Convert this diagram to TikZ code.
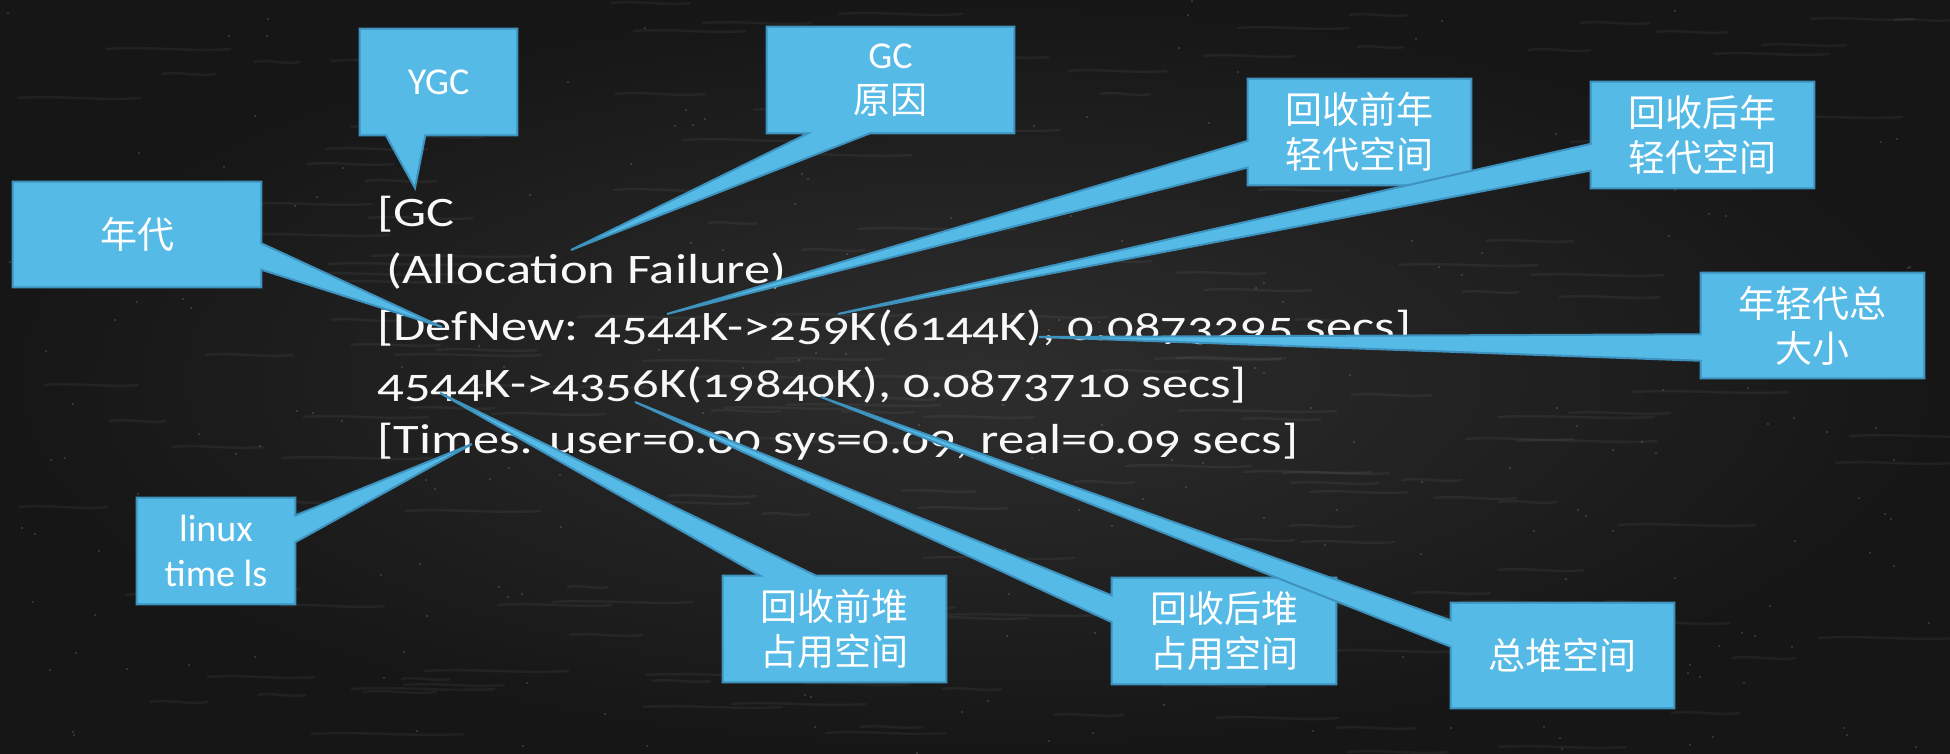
\documentclass[tikz,border=0pt]{standalone}
\usepackage{fontspec}
\setmainfont{Carlito}
\newfontfamily\codef[FakeStretch=1.25,Numbers=OldStyle]{Carlito}
\newfontfamily\cjk{Noto Sans CJK SC}
\usetikzlibrary{calc}
\pgfdeclarelayer{back}
\pgfdeclarelayer{shapes}
\pgfsetlayers{back,shapes,main}
\definecolor{cfill}{RGB}{86,186,230}
\definecolor{cline}{RGB}{62,146,190}
\definecolor{boardA}{RGB}{46,46,46}
\definecolor{boardB}{RGB}{22,22,22}
\definecolor{chalk}{RGB}{248,248,248}
\tikzset{
  cshape/.style={fill=cfill,draw=cline,line width=1pt,line join=miter},
  cbox/.style={inner sep=0pt,text=white,align=center,font=\fontsize{19}{22.5}\selectfont},
  codeline/.style={anchor=base west,inner sep=0pt,text=chalk,font=\codef\fontsize{21}{25}\selectfont},
  speck/.style={fill=white,opacity=0.18},
  streak/.style={draw=white,opacity=0.05,line width=1.2pt}
}
\newcommand\cwT[4]{\begin{pgfonlayer}{shapes}\path[cshape] (#1.north west) -- ($(#1.north west)!#2!(#1.north east)$) -- (#4) -- ($(#1.north west)!#3!(#1.north east)$) -- (#1.north east) -- (#1.south east) -- (#1.south west) -- cycle;\end{pgfonlayer}}
\newcommand\cwR[4]{\begin{pgfonlayer}{shapes}\path[cshape] (#1.north west) -- (#1.north east) -- ($(#1.north east)!#2!(#1.south east)$) -- (#4) -- ($(#1.north east)!#3!(#1.south east)$) -- (#1.south east) -- (#1.south west) -- cycle;\end{pgfonlayer}}
\newcommand\cwB[4]{\begin{pgfonlayer}{shapes}\path[cshape] (#1.north west) -- (#1.north east) -- (#1.south east) -- ($(#1.south west)!#3!(#1.south east)$) -- (#4) -- ($(#1.south west)!#2!(#1.south east)$) -- (#1.south west) -- cycle;\end{pgfonlayer}}
\newcommand\cwL[4]{\begin{pgfonlayer}{shapes}\path[cshape] (#1.north west) -- (#1.north east) -- (#1.south east) -- (#1.south west) -- ($(#1.north west)!#3!(#1.south west)$) -- (#4) -- ($(#1.north west)!#2!(#1.south west)$) -- cycle;\end{pgfonlayer}}
\newcommand\zh[1]{{\cjk\fontsize{18.5}{22.5}\selectfont #1}}
\begin{document}
\begin{tikzpicture}[x=0.5pt,y=-0.5pt]
\useasboundingbox (0,0) rectangle (1950,754);
\begin{pgfonlayer}{back}
\shade[inner color=boardA,outer color=boardB] (0,0) rectangle (1950,754);
\pgfmathsetseed{11}
\foreach \i in {1,...,180}{
  \pgfmathsetmacro\sx{random(0,1900)}
  \pgfmathsetmacro\sy{random(0,754)}
  \pgfmathsetmacro\sl{random(40,160)}
  \draw[streak] (\sx,\sy) .. controls ({\sx+\sl/3},{\sy-3}) and ({\sx+2*\sl/3},{\sy+3}) .. ({\sx+\sl},{\sy});
}
\foreach \i in {1,...,260}{
  \pgfmathsetmacro\px{random(0,1950)}
  \pgfmathsetmacro\py{random(0,754)}
  \fill[speck] (\px,\py) circle (1.1);
}
\node[codeline] (l1) at (377,227) {[GC};
\node[codeline] (l2) at (386,283.7) {(Allocation Failure)};
\node[codeline] (l3) at (377,340.4) {[DefNew: 4544K->259K(6144K), 0.0873295 secs]};
\node[codeline] (l4) at (377,397) {4544K->4356K(19840K), 0.0873710 secs]};
\node[codeline] (l5) at (377,453.8) {[Times: user=0.00 sys=0.09, real=0.09 secs]};
\end{pgfonlayer}
% tips
\coordinate (tygc) at (415,188);
\coordinate (tgcr) at (571,250);
\coordinate (tnd) at (442,327);
\coordinate (tyq) at (667,314);
\coordinate (tyh) at (838,314);
\coordinate (tyt) at (1039,337);
\coordinate (tlx) at (472,444);
\coordinate (tdq) at (440,393);
\coordinate (tdh) at (635,402);
\coordinate (tdz) at (821,397);
% callouts
\node[cbox,minimum width=157*0.5pt,minimum height=106*0.5pt] (ygc) at (438.5,82) {YGC};
\cwB{ygc}{0.1667}{0.4167}{tygc}
\node[cbox,minimum width=247*0.5pt,minimum height=106*0.5pt] (gcr) at (890.5,80) {GC\\\zh{原因}};
\cwB{gcr}{0.1667}{0.4167}{tgcr}
\node[cbox,minimum width=248*0.5pt,minimum height=105*0.5pt] (nd) at (137,234.5) {\zh{年代}};
\cwR{nd}{0.5833}{0.8333}{tnd}
\node[cbox,minimum width=223*0.5pt,minimum height=106*0.5pt] (yq) at (1359.5,132) {\zh{回收前年}\\\zh{轻代空间}};
\cwL{yq}{0.5833}{0.8333}{tyq}
\node[cbox,minimum width=223*0.5pt,minimum height=106*0.5pt] (yh) at (1702.5,135) {\zh{回收后年}\\\zh{轻代空间}};
\cwL{yh}{0.5833}{0.8333}{tyh}
\node[cbox,minimum width=223*0.5pt,minimum height=105*0.5pt] (yt) at (1812.5,325.5) {\zh{年轻代总}\\\zh{大小}};
\cwL{yt}{0.5833}{0.8333}{tyt}
\node[cbox,minimum width=158*0.5pt,minimum height=106*0.5pt] (lx) at (216,551) {linux\\time ls};
\cwR{lx}{0.1667}{0.4167}{tlx}
\node[cbox,minimum width=223*0.5pt,minimum height=106*0.5pt] (dq) at (834.5,629) {\zh{回收前堆}\\\zh{占用空间}};
\cwT{dq}{0.1667}{0.4167}{tdq}
\node[cbox,minimum width=224*0.5pt,minimum height=106*0.5pt] (dh) at (1224,631) {\zh{回收后堆}\\\zh{占用空间}};
\cwL{dh}{0.1667}{0.4167}{tdh}
\node[cbox,minimum width=223*0.5pt,minimum height=105*0.5pt] (dz) at (1562.5,655.5) {\zh{总堆空间}};
\cwL{dz}{0.1667}{0.4167}{tdz}
\end{tikzpicture}
\end{document}
